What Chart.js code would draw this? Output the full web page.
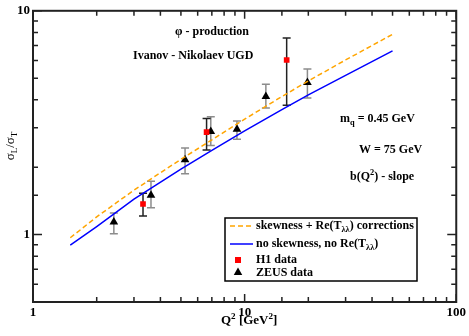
<!DOCTYPE html>
<html lang="en">
<head>
  <meta charset="UTF-8">
  <script src="https://cdn.jsdelivr.net/npm/chart.js"></script>
  <title>sigma_L / sigma_T</title>
  <style>
    body{margin: 0; background: #fff;}
    #wrap{width: 469px; height: 336px;}
  </style>
</head>
<body>
  <div id="wrap">
    <canvas id="myChart" width="469" height="336"></canvas>
  </div>
  <script>
    // theory curves
    const q2Line = [1.5, 2, 3, 5, 7, 10, 15, 20, 30, 50];
    const skewRatio = [0.968, 1.20, 1.58, 2.17, 2.65, 3.28, 4.14, 4.86, 6.03, 7.85];
    const noSkewRatio = [0.897, 1.087, 1.44, 1.96, 2.38, 2.91, 3.62, 4.21, 5.15, 6.62];

    // ZEUS data
    const zeusQ2 = [2.41, 3.61, 5.23, 6.92, 9.2, 12.6, 19.8];
    const zeusRatio = [1.14, 1.50, 2.16, 2.89, 2.96, 4.14, 4.78];
    const zeusHi = [1.25, 1.73, 2.44, 3.36, 3.22, 4.70, 5.5];
    const zeusLo = [1.01, 1.32, 1.87, 2.50, 2.67, 3.68, 4.08];

    // H1 data
    const h1Q2 = [3.31, 6.61, 15.8];
    const h1Ratio = [1.37, 2.87, 6.03];
    const h1Hi = [1.53, 3.30, 7.55];
    const h1Lo = [1.21, 2.39, 3.78];

    const xTickLabels = [1, 10, 100];
    const yTickLabels = [1, 10];

    const FONT = '"Liberation Serif", "Times New Roman", serif';

    function toXY(xs, ys){
      return xs.map((x, i) => ({x: x, y: ys[i]}));
    }

    // text with sub / superscripts
    function richWidth(ctx, parts, size, bold){
      let w = 0;
      parts.forEach(p => {
        const s = (p.sub || p.sup) ? size * 0.7 : size;
        ctx.font = (bold ? 'bold ' : '') + s + 'px ' + FONT;
        w += ctx.measureText(p.t).width;
      });
      return w;
    }
    function rich(ctx, x, y, parts, size, bold){
      let cx = x;
      ctx.textAlign = 'left';
      ctx.textBaseline = 'middle';
      parts.forEach(p => {
        const s = (p.sub || p.sup) ? size * 0.7 : size;
        ctx.font = (bold ? 'bold ' : '') + s + 'px ' + FONT;
        const dy = p.sub ? size * 0.3 : (p.sup ? -size * 0.35 : 0);
        ctx.fillText(p.t, cx, y + dy);
        cx += ctx.measureText(p.t).width;
      });
    }

    function triangle(ctx, x, y, r){
      ctx.beginPath();
      ctx.moveTo(x, y - r);
      ctx.lineTo(x + r * 0.95, y + r * 0.65);
      ctx.lineTo(x - r * 0.95, y + r * 0.65);
      ctx.closePath();
      ctx.fill();
    }

    const errorBars = {
      id: 'errorBars',
      beforeDatasetsDraw(chart){
        const ctx = chart.ctx, xs = chart.scales.x, ys = chart.scales.y;
        function bars(qs, lo, hi, color){
          ctx.save();
          ctx.strokeStyle = color;
          ctx.lineWidth = 1.5;
          qs.forEach((q, i) => {
            const px = xs.getPixelForValue(q);
            const top = ys.getPixelForValue(hi[i]);
            const bot = ys.getPixelForValue(lo[i]);
            ctx.beginPath();
            ctx.moveTo(px, top); ctx.lineTo(px, bot);
            ctx.moveTo(px - 4, top); ctx.lineTo(px + 4, top);
            ctx.moveTo(px - 4, bot); ctx.lineTo(px + 4, bot);
            ctx.stroke();
          });
          ctx.restore();
        }
        bars(zeusQ2, zeusLo, zeusHi, '#8c8c8c');
        bars(h1Q2, h1Lo, h1Hi, '#222');
      }
    };

    const frame = {
      id: 'frame',
      afterDraw(chart){
        const ctx = chart.ctx, a = chart.chartArea;
        const xs = chart.scales.x, ys = chart.scales.y;
        ctx.save();
        ctx.strokeStyle = '#222';
        ctx.lineWidth = 2;
        ctx.strokeRect(a.left, a.top, a.right - a.left, a.bottom - a.top);

        // ticks inside, all four sides
        ctx.lineWidth = 1.5;
        ctx.beginPath();
        xs.ticks.forEach(t => {
          const lg = Math.log10(t.value);
          const len = Math.abs(lg - Math.round(lg)) < 1e-6 ? 8 : 5;
          const px = xs.getPixelForValue(t.value);
          ctx.moveTo(px, a.bottom); ctx.lineTo(px, a.bottom - len);
          ctx.moveTo(px, a.top); ctx.lineTo(px, a.top + len);
        });
        ys.ticks.forEach(t => {
          const lg = Math.log10(t.value);
          const len = Math.abs(lg - Math.round(lg)) < 1e-6 ? 9 : 5;
          const py = ys.getPixelForValue(t.value);
          ctx.moveTo(a.left, py); ctx.lineTo(a.left + len, py);
          ctx.moveTo(a.right, py); ctx.lineTo(a.right - len, py);
        });
        ctx.stroke();

        ctx.fillStyle = '#000';
        // axis titles
        rich(ctx, 221, 321, [{t: 'Q'}, {t: '2', sup: true}, {t: ' [GeV'}, {t: '2', sup: true}, {t: ']'}], 13, true);
        const yParts = [{t: 'σ'}, {t: 'L', sub: true}, {t: '/σ'}, {t: 'T', sub: true}];
        const yw = richWidth(ctx, yParts, 13, false);
        ctx.save();
        ctx.translate(11, 146);
        ctx.rotate(-Math.PI / 2);
        rich(ctx, -yw / 2, 0, yParts, 13, false);
        ctx.restore();

        // annotations
        rich(ctx, 175, 32, [{t: 'φ - production'}], 12, true);
        rich(ctx, 133, 56, [{t: 'Ivanov - Nikolaev UGD'}], 12, true);
        rich(ctx, 340, 119, [{t: 'm'}, {t: 'q', sub: true}, {t: ' = 0.45 GeV'}], 12, true);
        rich(ctx, 359, 150, [{t: 'W = 75 GeV'}], 12, true);
        rich(ctx, 350, 177, [{t: 'b(Q'}, {t: '2', sup: true}, {t: ') - slope'}], 12, true);

        // legend
        ctx.strokeStyle = '#000';
        ctx.lineWidth = 1.5;
        ctx.strokeRect(225, 218, 192, 63);
        ctx.lineWidth = 1.5;
        ctx.strokeStyle = '#FFA500';
        ctx.setLineDash([5, 3]);
        ctx.beginPath(); ctx.moveTo(230, 226); ctx.lineTo(253, 226); ctx.stroke();
        ctx.setLineDash([]);
        ctx.strokeStyle = '#0000FF';
        ctx.beginPath(); ctx.moveTo(230, 244); ctx.lineTo(253, 244); ctx.stroke();
        ctx.fillStyle = '#FF0000';
        ctx.fillRect(235, 257, 6, 6);
        ctx.fillStyle = '#000';
        triangle(ctx, 238, 272, 4.5);
        rich(ctx, 256, 226, [{t: 'skewness + Re(T'}, {t: 'λλ', sub: true}, {t: ') corrections'}], 12, true);
        rich(ctx, 256, 244, [{t: 'no skewness, no Re(T'}, {t: 'λλ', sub: true}, {t: ')'}], 12, true);
        rich(ctx, 256, 260, [{t: 'H1 data'}], 12, true);
        rich(ctx, 256, 273, [{t: 'ZEUS data'}], 12, true);
        ctx.restore();
      }
    };

    const ctx = document.getElementById('myChart');
    new Chart(ctx, {
      type: 'line',
      data: {
        datasets: [{
          label: 'skewness + Re(T) corrections',
          data: toXY(q2Line, skewRatio),
          borderColor: '#FFA500',
          borderDash: [5, 3],
          borderWidth: 1.5,
          pointRadius: 0,
          fill: false
        }, {
          label: 'no skewness, no Re(T)',
          data: toXY(q2Line, noSkewRatio),
          borderColor: '#0000FF',
          borderWidth: 1.5,
          pointRadius: 0,
          fill: false
        }, {
          label: 'H1 data',
          data: toXY(h1Q2, h1Ratio),
          showLine: false,
          pointStyle: 'rect',
          pointRadius: 4,
          backgroundColor: '#FF0000',
          borderColor: '#FF0000',
          borderWidth: 0
        }, {
          label: 'ZEUS data',
          data: toXY(zeusQ2, zeusRatio),
          showLine: false,
          pointStyle: 'triangle',
          pointRadius: 5,
          backgroundColor: '#000',
          borderColor: '#000',
          borderWidth: 0
        }]
      },
      options: {
        responsive: false,
        animation: false,
        layout: {padding: {left: 0, right: 11, top: 5, bottom: 0}},
        plugins: {legend: {display: false}, tooltip: {enabled: false}},
        scales: {
          x: {
            type: 'logarithmic',
            min: 1, max: 100,
            grid: {display: false, drawTicks: false},
            border: {display: false},
            afterFit(s){ s.height = 34; },
            ticks: {
              autoSkip: false, maxRotation: 0, padding: 3,
              color: '#000',
              font: {family: FONT, size: 13, weight: 'bold'},
              callback: v => xTickLabels.includes(v) ? String(v) : ''
            }
          },
          y: {
            type: 'logarithmic',
            min: 0.5, max: 10,
            grid: {display: false, drawTicks: false},
            border: {display: false},
            afterFit(s){ s.width = 33; },
            ticks: {
              autoSkip: false, padding: 3,
              color: '#000',
              font: {family: FONT, size: 13, weight: 'bold'},
              callback: v => yTickLabels.includes(v) ? String(v) : ''
            }
          }
        }
      },
      plugins: [errorBars, frame]
    });
  </script>
</body>
</html>
